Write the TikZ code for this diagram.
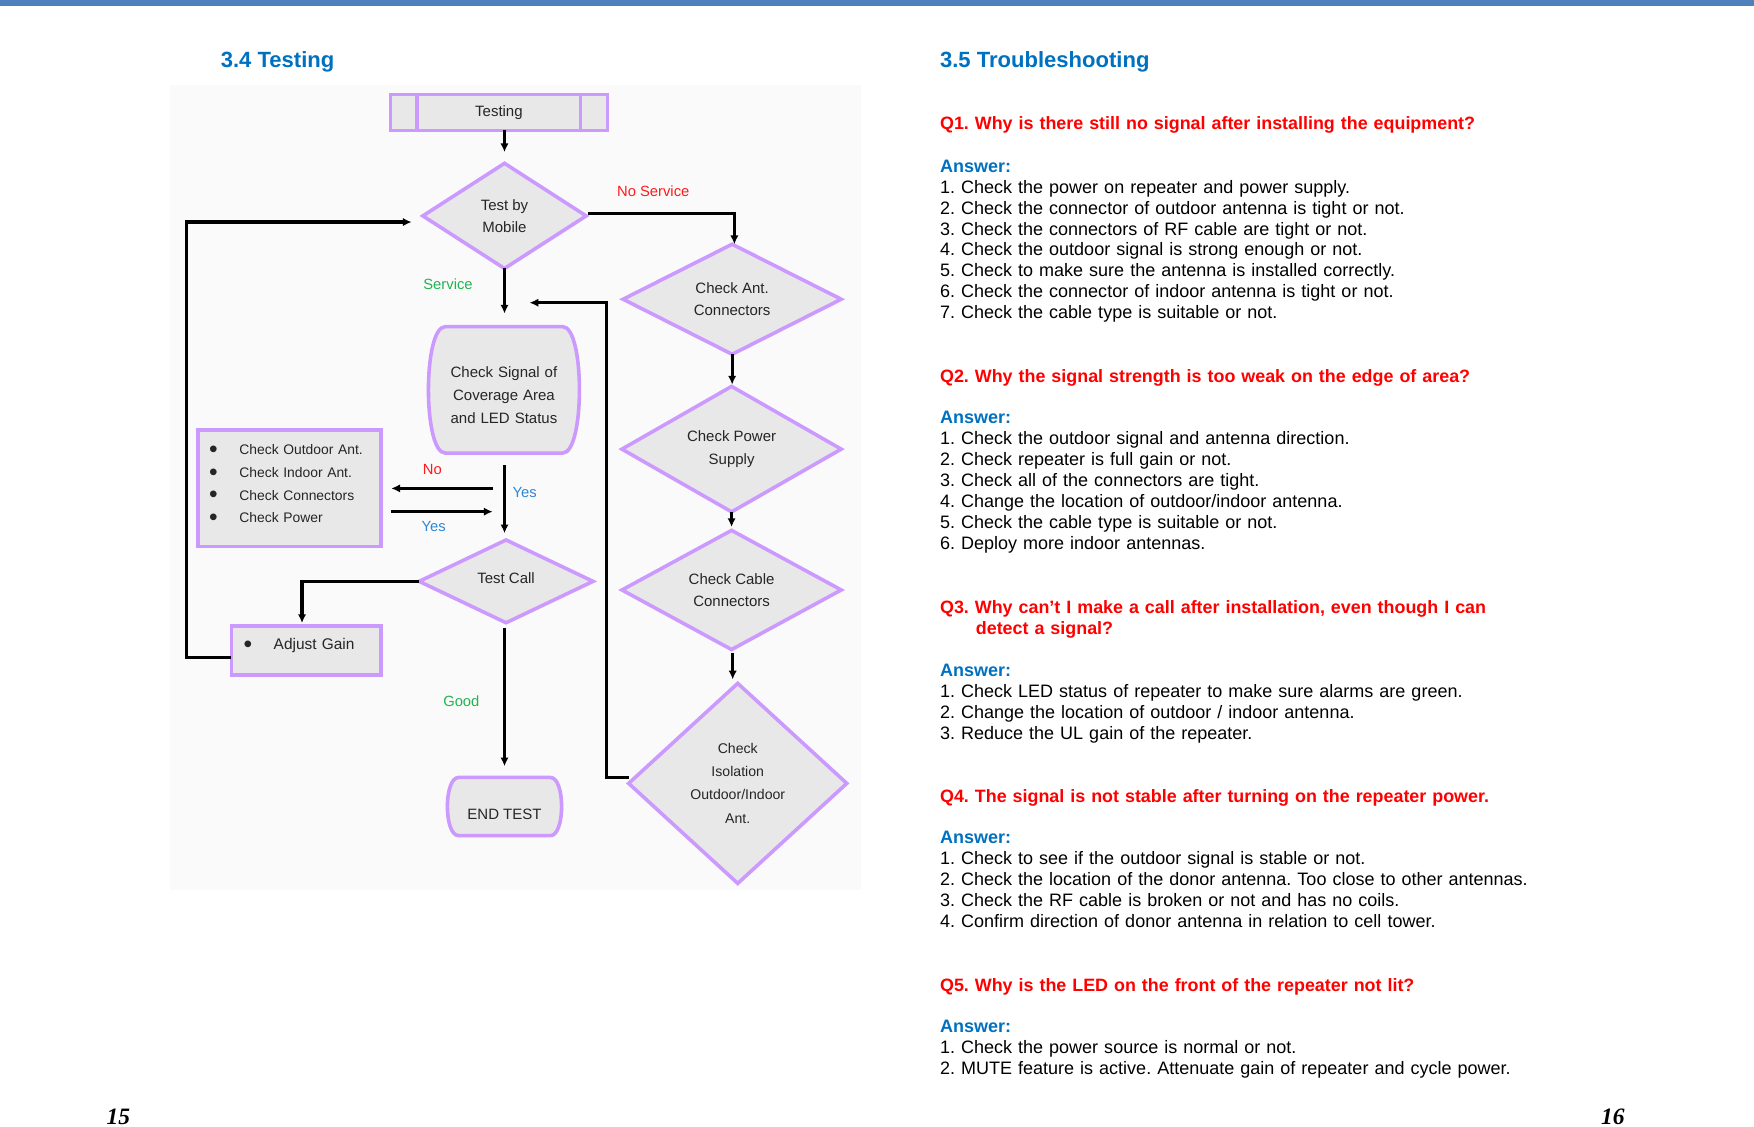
\documentclass[tikz,border=0pt]{standalone}
\usepackage{fontspec}
\setmainfont{Liberation Sans}
\newfontfamily\pnfont{Liberation Serif}
\usetikzlibrary{shapes.geometric,arrows.meta}
\definecolor{barblue}{HTML}{4F81BD}
\definecolor{titleblue}{HTML}{0070C0}
\definecolor{qred}{HTML}{FF0000}
\definecolor{lav}{HTML}{CC99FF}
\definecolor{boxfill}{HTML}{E8E8E8}
\definecolor{bggray}{HTML}{FAFAFA}
\definecolor{lblgreen}{HTML}{22B350}
\definecolor{lblblue}{HTML}{2E86D6}
\definecolor{lblred}{HTML}{FF1A1A}
\newcommand\fcbullet{\makebox[13pt][l]{\hspace*{-0.5pt}\fontsize{11}{9}\selectfont\raisebox{-1.3pt}{•}}}
\pgfdeclarelayer{bgA}
\pgfdeclarelayer{bgB}
\pgfsetlayers{bgA,bgB,main}
\begin{document}
\frenchspacing
\begin{tikzpicture}[x=0.5pt,y=-0.5pt,
  fc/.style={font=\fontsize{6.7}{10}\selectfont, text=black!85, align=center},
  dia/.style={diamond, draw=lav, fill=boxfill, line width=1.6pt, inner sep=0pt, outer sep=0pt, fc},
  box/.style={rectangle, draw=lav, fill=boxfill, line width=1.6pt, inner ysep=0pt, outer sep=0pt, text=black!85},
  ghost/.style={rectangle, inner sep=0pt, outer sep=0pt, fc},
  shapeline/.style={draw=lav, fill=boxfill, line width=1.6pt},
  arr/.style={line width=1.4pt, -{Latex[length=3.9pt,width=3.7pt]}},
  lbl/.style={font=\fontsize{6.6}{8}\selectfont, inner sep=0pt},
  qhead/.style={anchor=base west, inner sep=0pt, text=qred, font=\fontsize{8.0}{9.5}\selectfont\bfseries, text width=400pt, align=left},
  ans/.style={anchor=base west, inner sep=0pt, font=\fontsize{8.05}{9.35}\selectfont, text width=400pt, align=left},
  title/.style={anchor=base west, inner sep=0pt, text=titleblue, font=\fontsize{9.85}{11}\selectfont\bfseries},
  pnum/.style={anchor=base west, inner sep=0pt, font=\pnfont\fontsize{10.5}{12}\selectfont\bfseries\itshape}
]
\useasboundingbox (0,0) rectangle (1568,1007);
% top bar
\fill[barblue] (0,0) rectangle (1568,5);
% flowchart background
\begin{pgfonlayer}{bgA}
\fill[bggray] (152,76) rectangle (770,796);
\end{pgfonlayer}

% titles
\node[title] (t34) at (197,60) {3.4 Testing};
\node[title] (t35) at (840,60) {3.5 Troubleshooting};

% ---- flowchart nodes
\node[box, minimum width=97pt, minimum height=16pt, fc] (testing) at (446,100.5) {Testing};
\draw[lav, line width=1.6pt] ([xshift=12pt]testing.north west) -- ([xshift=12pt]testing.south west);
\draw[lav, line width=1.6pt] ([xshift=-12pt]testing.north east) -- ([xshift=-12pt]testing.south east);

\node[dia, minimum width=73pt, minimum height=47pt] (mobile) at (451,193) {Test by\\Mobile};
\node[dia, minimum width=97.5pt, minimum height=45.5pt] (ant) at (654.5,267.5) {Check Ant.\\Connectors};
\node[dia, minimum width=98pt, minimum height=45.5pt] (power) at (654,401.5) {Check Power\\Supply};
\node[dia, minimum width=98pt, minimum height=47.5pt] (cable) at (654,527.4) {Check Cable\\Connectors};
\node[dia, minimum width=97.5pt, minimum height=89.4pt, font=\fontsize{6.3}{10.3}\selectfont] (iso) at (659.5,700.3) {Check\\Isolation\\Outdoor/Indoor\\Ant.};

\node[ghost, minimum width=67.5pt, minimum height=56.5pt, text width=66pt, text height=5pt, text depth=15.7pt, font=\fontsize{6.7}{10.25}\selectfont] (signal) at (450.5,348.5) {Check Signal of\\Coverage Area\\and LED Status};
\begin{pgfonlayer}{bgB}
\draw[shapeline] ([xshift=7.5pt]signal.north west) -- ([xshift=-7.5pt]signal.north east)
  .. controls ([xshift=2.5pt]signal.north east) and ([xshift=2.5pt]signal.south east) .. ([xshift=-7.5pt]signal.south east)
  -- ([xshift=7.5pt]signal.south west)
  .. controls ([xshift=-2.5pt]signal.south west) and ([xshift=-2.5pt]signal.north west) .. cycle;
\end{pgfonlayer}

\node[box, minimum width=81.8pt, minimum height=52pt, inner xsep=5.5pt, text width=70.8pt, align=left, text height=4.5pt, text depth=34.6pt, font=\fontsize{6.2}{10.15}\selectfont] (checks) at (258.8,436.5) {\fcbullet Check Outdoor Ant.\\\fcbullet Check Indoor Ant.\\\fcbullet Check Connectors\\\fcbullet Check Power};

\node[dia, minimum width=77.7pt, minimum height=37pt, text height=5pt, text depth=2.7pt] (testcall) at (452.4,519.7) {Test Call};

\node[box, minimum width=66.8pt, minimum height=21.9pt, inner xsep=5.9pt, text width=55pt, align=left, text height=4.5pt, text depth=5.1pt, font=\fontsize{6.9}{10}\selectfont] (adjust) at (273.7,581.5) {\fcbullet Adjust Gain};

\node[ghost, minimum width=51pt, minimum height=26pt, text height=12pt, text depth=0.2pt] (end) at (451,721) {END TEST};
\begin{pgfonlayer}{bgB}
\draw[shapeline] ([xshift=5pt]end.north west) -- ([xshift=-5pt]end.north east)
  .. controls ([xshift=1.7pt]end.north east) and ([xshift=1.7pt]end.south east) .. ([xshift=-5pt]end.south east)
  -- ([xshift=5pt]end.south west)
  .. controls ([xshift=-1.7pt]end.south west) and ([xshift=-1.7pt]end.north west) .. cycle;
\end{pgfonlayer}

% ---- connectors
\draw[arr] (testing.south -| mobile.north) -- ([yshift=5pt]mobile.north);
\draw[arr, shorten <=1pt] ([yshift=1pt]mobile.east) -| ([xshift=1pt]ant.north);
\draw[arr, shorten >=0.8pt] (ant.south) -- (ant.south |- power.north);
\draw[arr, shorten >=1.5pt] (power.south) -- (power.south |- cable.north);
\draw[arr, shorten <=1.5pt, shorten >=1.75pt] ([xshift=0.5pt]cable.south) -- ([xshift=0.5pt]cable.south |- iso.north);
\coordinate (retin) at (473.4,270.6);
\draw[arr] ([yshift=2.7pt]iso.west) -- ++(-20,0) |- (retin);
\draw[arr] (mobile.south) -- ([yshift=5.85pt]signal.north -| mobile.south);
\draw[arr] ([yshift=-5.35pt]signal.south -| mobile.south) -- ([yshift=3pt]testcall.north -| mobile.south);
\coordinate (noout) at (440.4,436.6);
\coordinate (yesin) at (440.4,457.4);
\draw[arr, shorten >=4.6pt] (noout) -- (checks.east |- noout);
\draw[arr, shorten <=4.6pt] (checks.east |- yesin) -- (yesin);
\draw[arr, shorten >=1.3pt] (testcall.west) -| ([xshift=-1.85pt]adjust.north);
\draw[arr] ([yshift=-3.25pt]adjust.west) -- ++(-40,0) |- ([yshift=-2.75pt,xshift=-5pt]mobile.west);
\draw[arr] ([yshift=-2.15pt]testcall.south -| mobile.south) -- ([yshift=5pt]end.north -| mobile.south);

% ---- labels
\node[lbl, text=lblred] (lnoserv) at (584,171.3) {No Service};
\node[lbl, text=lblgreen] (lserv) at (400.5,253.9) {Service};
\node[lbl, text=lblred] (lno) at (386.5,419.3) {No};
\node[lbl, text=lblblue] (lyes1) at (469,440.4) {Yes};
\node[lbl, text=lblblue] (lyes2) at (387.7,470.8) {Yes};
\node[lbl, text=lblgreen] (lgood) at (412.4,626.7) {Good};

% ---- troubleshooting text
\node[qhead] (q1) at (840,116) {Q1. Why is there still no signal after installing the equipment?};
\node[ans] (a1) at (840,154) {\textcolor{titleblue}{\bfseries Answer:}\\
1. Check the power on repeater and power supply.\\
2. Check the connector of outdoor antenna is tight or not.\\
3. Check the connectors of RF cable are tight or not.\\
4. Check the outdoor signal is strong enough or not.\\
5. Check to make sure the antenna is installed correctly.\\
6. Check the connector of indoor antenna is tight or not.\\
7. Check the cable type is suitable or not.};

\node[qhead] (q2) at (840,342) {Q2. Why the signal strength is too weak on the edge of area?};
\node[ans] (a2) at (840,379) {\textcolor{titleblue}{\bfseries Answer:}\\
1. Check the outdoor signal and antenna direction.\\
2. Check repeater is full gain or not.\\
3. Check all of the connectors are tight.\\
4. Change the location of outdoor/indoor antenna.\\
5. Check the cable type is suitable or not.\\
6. Deploy more indoor antennas.};

\node[qhead] (q3) at (840,548) {Q3. Why can’t I make a call after installation, even though I can\\\hspace*{16pt}detect a signal?};
\node[ans] (a3) at (840,605) {\textcolor{titleblue}{\bfseries Answer:}\\
1. Check LED status of repeater to make sure alarms are green.\\
2. Change the location of outdoor / indoor antenna.\\
3. Reduce the UL gain of the repeater.};

\node[qhead] (q4) at (840,717) {Q4. The signal is not stable after turning on the repeater power.};
\node[ans] (a4) at (840,754) {\textcolor{titleblue}{\bfseries Answer:}\\
1. Check to see if the outdoor signal is stable or not.\\
2. Check the location of the donor antenna. Too close to other antennas.\\
3. Check the RF cable is broken or not and has no coils.\\
4. Confirm direction of donor antenna in relation to cell tower.};

\node[qhead] (q5) at (840,886) {Q5. Why is the LED on the front of the repeater not lit?};
\node[ans] (a5) at (840,923) {\textcolor{titleblue}{\bfseries Answer:}\\
1. Check the power source is normal or not.\\
2. MUTE feature is active. Attenuate gain of repeater and cycle power.};

% page numbers
\node[pnum] (p15) at (95,1005) {15};
\node[pnum] (p16) at (1431,1005) {16};
\end{tikzpicture}
\end{document}
